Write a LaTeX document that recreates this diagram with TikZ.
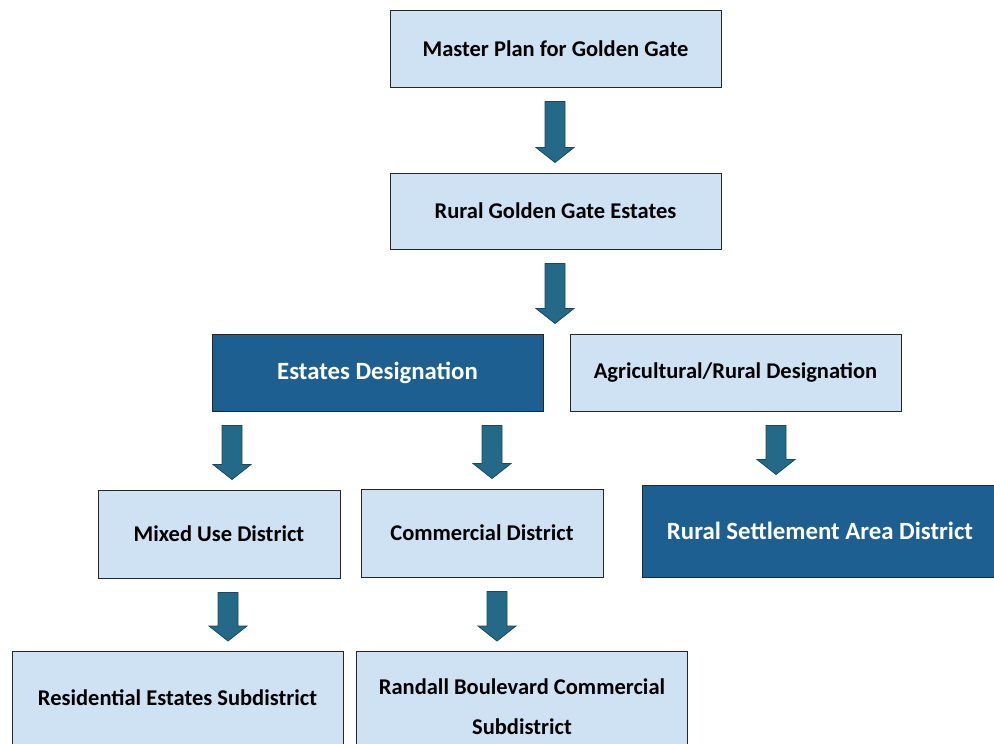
\documentclass[tikz,border=0pt]{standalone}
\usepackage{fontspec}
\setmainfont{Carlito}
\usetikzlibrary{calc}

\definecolor{paleblue}{RGB}{207,226,243}
\definecolor{deepblue}{RGB}{30,95,146}
\definecolor{arrowblue}{RGB}{36,106,136}
\definecolor{arrowedge}{RGB}{28,72,92}

\begin{document}
\begin{tikzpicture}[x=1pt,y=-1pt,
  box/.style={draw=black!85,line width=1pt,fill=paleblue,inner sep=0pt,
    align=center,font=\bfseries\fontsize{22.5}{27}\selectfont},
  darkbox/.style={box,fill=deepblue,text=white,font=\bfseries\fontsize{24.8}{30}\selectfont},
  subbox/.style={box,anchor=north,minimum width=331,minimum height=110},
  flow/.style={fill=arrowblue,draw=arrowedge,line width=0.8pt,line join=miter}]
\useasboundingbox (0,0) rectangle (994,744);

% top of the tree
\node[box,minimum width=331,minimum height=77] (master) at (555.5,48.5) {Master Plan for Golden Gate};
\node[box,minimum width=331,minimum height=76] (rural) at (555.5,211) {Rural Golden Gate Estates};

% designations
\node[darkbox,minimum width=331,minimum height=77] (estates) at (377.5,372.5) {Estates Designation};
\node[box,minimum width=331,minimum height=77] (agri) at (735.5,372.5) {Agricultural/Rural Designation};

% districts
\node[box,minimum width=242,minimum height=88] (mixed) at (219,534) {Mixed Use District};
\node[box,minimum width=242,minimum height=88] (commercial) at (482,533) {Commercial District};
\node[darkbox,minimum width=356,minimum height=92] (settlement) at (820,531) {Rural Settlement Area District};

% subdistricts
\node[subbox] (residential) at (177.5,651) {\raisebox{18pt}{Residential Estates Subdistrict}};
\node[subbox] (randall) at (522,651) {Randall Boulevard Commercial\\[13pt]Subdistrict};

% block arrow from box #1 down to box #2 at x = #3
\newcommand\flowarrow[3]{%
  \path[flow] let \p1=(#1.south), \p2=(#2.north) in
    (#3pt-10pt,\y1-14pt) -- (#3pt+10pt,\y1-14pt) -- (#3pt+10pt,\y2+25pt)
    -- (#3pt+19pt,\y2+25pt) -- (#3pt,\y2+10pt) -- (#3pt-19pt,\y2+25pt)
    -- (#3pt-10pt,\y2+25pt) -- cycle;}

% arrows
\flowarrow{master}{rural}{555}
\flowarrow{rural}{estates}{555}
\flowarrow{estates}{mixed}{232}
\flowarrow{estates}{commercial}{492}
\flowarrow{agri}{settlement}{776}
\flowarrow{mixed}{residential}{228}
\flowarrow{commercial}{randall}{497}
\end{tikzpicture}
\end{document}
